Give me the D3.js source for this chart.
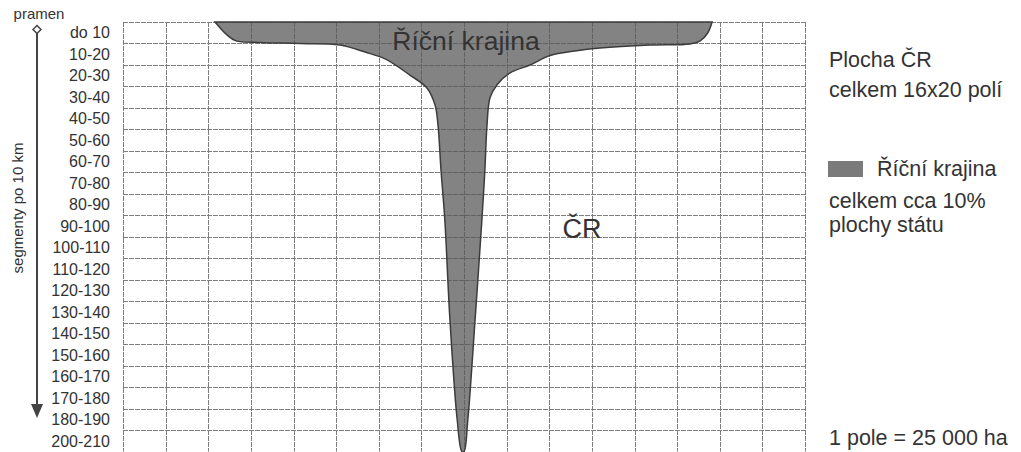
<!DOCTYPE html>
<html>
<head>
<meta charset="utf-8">
<script src="https://cdn.jsdelivr.net/npm/d3@7"></script>
<style>
  body { margin: 0; background: #fff; }
  svg { display: block; font-family: "Liberation Sans", Arial, sans-serif; }
</style>
</head>
<body>
<div id="chart-area"></div>
<script>
// row labels (segments of 10 km along the river)
var rowLabels = ['do 10', '10-20', '20-30', '30-40', '40-50', '50-60', '60-70', '70-80',
  '80-90', '90-100', '100-110', '110-120', '120-130', '130-140', '140-150', '150-160',
  '160-170', '170-180', '180-190', '200-210'];
var colCount = 16;

// outline of the river landscape in grid units [column, row]
// left edge from the top down, then right edge from the bottom up
var riverLeft = [[2.16, 0], [2.28, 0.28], [2.44, 0.6], [2.65, 0.88], [3.21, 0.95], [4.15, 1.0],
  [5.09, 1.07], [5.68, 1.4], [6.15, 1.72], [6.73, 2.47], [7.13, 3.07], [7.32, 3.86],
  [7.39, 4.79], [7.46, 6.88], [7.55, 9.21], [7.67, 13.86], [7.84, 18.51], [7.95, 20]];
var riverRight = [[8.0, 20], [8.09, 18.51], [8.26, 13.86], [8.42, 9.21], [8.49, 6.88],
  [8.54, 4.79], [8.61, 3.53], [8.77, 2.93], [9.08, 2.37], [9.55, 2.0], [10.02, 1.56],
  [10.6, 1.35], [11.19, 1.21], [12.36, 1.07], [13.3, 1.02], [13.54, 0.88], [13.72, 0.5],
  [13.82, 0]];

var legendTop = ['Plocha ČR', 'celkem 16x20 polí'];
var legendRiver = 'Říční krajina';
var legendBottom = ['celkem cca 10%', 'plochy státu'];
var scaleNote = '1 pole = 25 000 ha';

var width = 1021, height = 452;
var svg = d3.select('#chart-area').append('svg')
  .attr('width', width)
  .attr('height', height);

var x = d3.scaleLinear().domain([0, colCount]).range([123, 805]);
var y = d3.scaleLinear().domain([0, rowLabels.length]).range([22, 451.5]);
var yBand = d3.scaleBand().domain(rowLabels).range([22, 451.5]);

// grid
var grid = svg.append('g')
  .attr('stroke', '#7e7e7e')
  .attr('stroke-width', 1)
  .attr('stroke-dasharray', '5,1');
grid.selectAll('line.h')
  .data(d3.range(rowLabels.length + 1))
  .enter().append('line')
  .attr('class', 'h')
  .attr('x1', x(0)).attr('x2', x(colCount))
  .attr('y1', d => Math.round(y(d)) + 0.5)
  .attr('y2', d => Math.round(y(d)) + 0.5);
grid.selectAll('line.v')
  .data(d3.range(colCount + 1))
  .enter().append('line')
  .attr('class', 'v')
  .attr('x1', d => Math.round(x(d)) + 0.5)
  .attr('x2', d => Math.round(x(d)) + 0.5)
  .attr('y1', y(0)).attr('y2', y(rowLabels.length));

// river landscape shape
var riverLine = d3.line()
  .x(d => x(d[0]))
  .y(d => y(d[1]))
  .curve(d3.curveCatmullRom.alpha(0.5));
svg.append('path')
  .attr('d', riverLine(riverLeft.concat(riverRight)) + 'Z')
  .attr('fill', '#5a5a5a')
  .attr('fill-opacity', 0.75)
  .attr('stroke', '#3c3c3c')
  .attr('stroke-width', 1.5);

svg.append('text')
  .attr('x', 466).attr('y', 50)
  .attr('text-anchor', 'middle')
  .attr('font-size', '26.5px')
  .attr('fill', '#333')
  .text('Říční krajina');

svg.append('text')
  .attr('x', 582).attr('y', 238)
  .attr('text-anchor', 'middle')
  .attr('font-size', '27px')
  .attr('fill', '#333')
  .text('ČR');

// row labels
svg.selectAll('text.row')
  .data(rowLabels)
  .enter().append('text')
  .attr('class', 'row')
  .attr('x', 110)
  .attr('y', d => yBand(d) + yBand.bandwidth() / 2)
  .attr('dy', '0.36em')
  .attr('text-anchor', 'end')
  .attr('font-size', '16px')
  .attr('fill', '#333')
  .text(d => d);

// direction arrow
svg.append('text')
  .attr('x', 39).attr('y', 19)
  .attr('text-anchor', 'middle')
  .attr('font-size', '15px')
  .attr('fill', '#333')
  .text('pramen');
svg.append('line')
  .attr('x1', 37).attr('x2', 37)
  .attr('y1', 33).attr('y2', 406)
  .attr('stroke', '#444')
  .attr('stroke-width', 2);
svg.append('path')
  .attr('d', 'M37,25.5L41,29.5L37,33.5L33,29.5Z')
  .attr('fill', '#fff')
  .attr('stroke', '#444')
  .attr('stroke-width', 1.5);
svg.append('path')
  .attr('d', 'M31,404L43,404L37,418Z')
  .attr('fill', '#444');
svg.append('text')
  .attr('transform', 'translate(23,208) rotate(-90)')
  .attr('text-anchor', 'middle')
  .attr('font-size', '15px')
  .attr('fill', '#333')
  .text('segmenty po 10 km');

// legend
var legend = svg.append('g')
  .attr('font-size', '21.5px')
  .attr('fill', '#333');
legend.selectAll('text.top')
  .data(legendTop)
  .enter().append('text')
  .attr('class', 'top')
  .attr('x', 829)
  .attr('y', (d, i) => 67 + i * 30)
  .text(d => d);
legend.append('rect')
  .attr('x', 828).attr('y', 161)
  .attr('width', 35).attr('height', 16)
  .attr('fill', '#7a7a7a');
legend.append('text')
  .attr('x', 877).attr('y', 176)
  .text(legendRiver);
legend.selectAll('text.bottom')
  .data(legendBottom)
  .enter().append('text')
  .attr('class', 'bottom')
  .attr('x', 829)
  .attr('y', (d, i) => 208 + i * 24)
  .text(d => d);
legend.append('text')
  .attr('x', 829).attr('y', 445)
  .text(scaleNote);
</script>
</body>
</html>
